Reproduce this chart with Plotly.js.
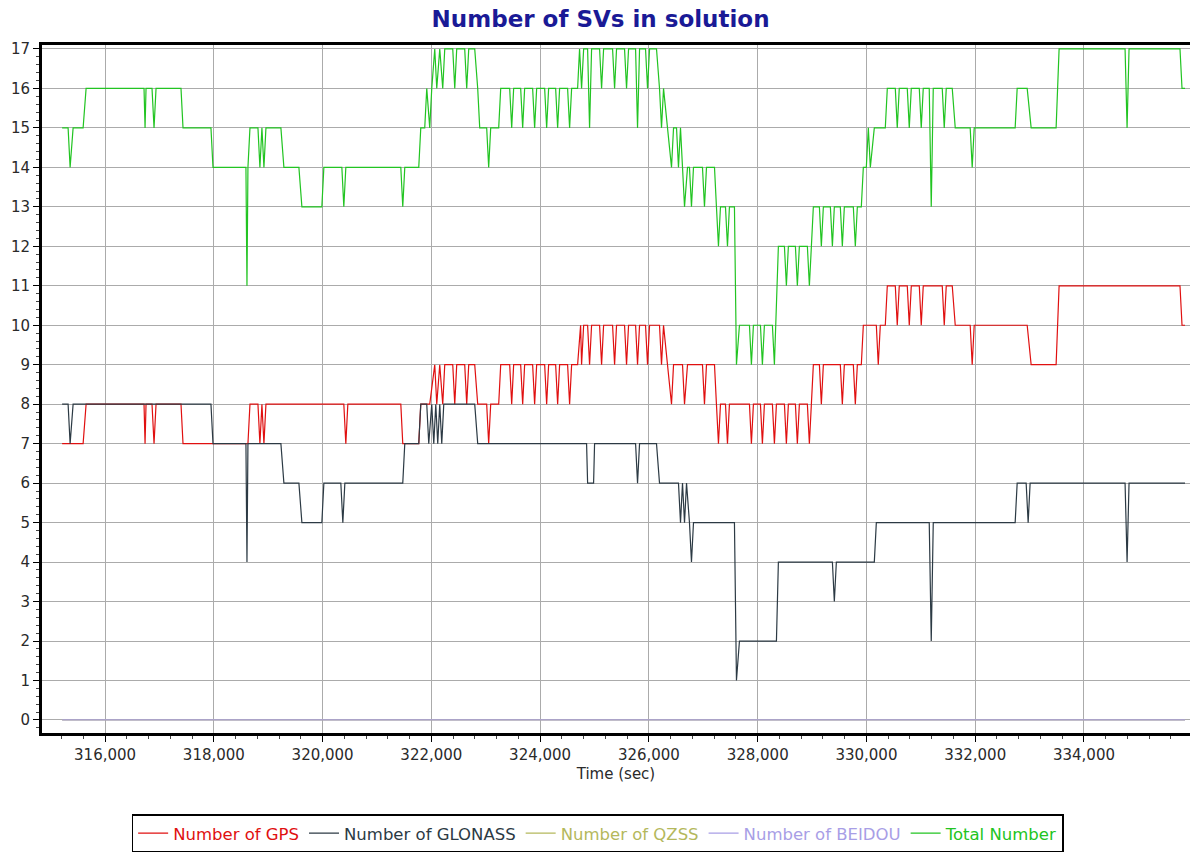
<!DOCTYPE html>
<html><head><meta charset="utf-8">
<script src="https://cdn.plot.ly/plotly-3.0.1.min.js"></script>
<style>html,body{margin:0;padding:0;background:#fff}#chart{width:1194px;height:854px}</style>
</head><body><div id="chart"></div>
<script>
// ---- Data (time in seconds of week, number of satellites) ----
const totalTime = [
315210,315320,315357,315412,315596,315651,316716,316735,316753,316863,
316900,316937,317396,317433,317947,317984,318590,318609,318627,318664,
318811,318847,318884,318921,318958,319233,319288,319564,319619,319986,
320023,320354,320390,320427,321438,321474,321511,321768,321805,321878,
321915,321970,322007,322062,322099,322154,322209,322246,322393,322430,
322466,322613,322650,322687,322797,322852,322889,323017,323054,323091,
323238,323275,323440,323477,323513,323642,323679,323715,323862,323899,
323936,324083,324120,324156,324285,324322,324358,324505,324542,324579,
324689,324725,324762,324800,324873,324909,324946,325093,325130,325167,
325332,325369,325405,325552,325589,325626,325755,325791,325828,325938,
325975,326012,326140,326195,326232,326269,326342,326416,326453,326508,
326544,326581,326618,326655,326710,326746,326783,326820,326985,327022,
327059,327206,327242,327279,327316,327408,327445,327481,327573,327610,
327665,327849,327885,327922,328051,328087,328124,328271,328308,328381,
328492,328528,328565,328694,328730,328767,328914,328951,328988,329024,
329135,329171,329208,329337,329374,329410,329520,329557,329594,329759,
329796,329833,329906,329943,329998,330035,330072,330145,330347,330384,
330531,330567,330604,330751,330788,330825,330972,331008,331045,331155,
331192,331229,331394,331431,331468,331578,331633,331908,331945,331982,
332735,332772,332956,333029,333488,333543,334756,334793,334829,335766,
335803,335858];
const totalCount = [
15,15,14,15,15,16,16,15,16,16,
15,16,16,15,15,14,14,11,14,15,
15,14,15,14,15,15,14,14,13,13,
14,14,13,14,14,13,14,14,15,15,
16,15,16,17,16,17,16,17,17,16,
17,17,16,17,17,16,15,15,14,15,
15,16,16,15,16,16,15,16,16,15,
16,16,15,16,16,15,16,16,15,16,
16,17,16,17,17,15,17,17,16,17,
17,16,17,17,16,17,17,15,17,17,
16,17,17,16,15,16,15,14,15,15,
14,15,14,13,14,14,13,14,14,13,
14,14,13,12,13,13,12,13,13,9,
10,10,9,10,10,9,10,10,9,12,
12,11,12,12,11,12,12,11,12,13,
13,12,13,13,12,13,13,12,13,13,
12,13,13,14,14,15,14,15,15,16,
16,15,16,16,15,16,16,15,16,16,
13,16,16,15,16,16,15,15,14,15,
15,16,16,15,15,17,17,15,17,17,
16,16];

const gpsTime = [
315210,315596,315651,316716,316735,316753,316863,316900,316937,317396,
317433,318627,318664,318811,318847,318884,318921,318958,320390,320427,
320464,321438,321474,321768,321805,321970,322062,322099,322154,322209,
322246,322393,322430,322466,322613,322650,322687,322797,322852,323017,
323054,323091,323238,323275,323440,323477,323513,323642,323679,323715,
323862,323899,323936,324083,324120,324156,324285,324322,324358,324505,
324542,324579,324689,324744,324762,324800,324873,324909,324946,325093,
325130,325167,325332,325369,325405,325552,325589,325626,325755,325791,
325828,325938,325975,326012,326140,326195,326232,326269,326342,326416,
326453,326618,326655,326710,326985,327022,327059,327206,327242,327279,
327316,327408,327445,327481,327849,327885,327922,328051,328087,328124,
328271,328308,328345,328492,328528,328565,328694,328730,328767,328914,
328951,328988,329024,329135,329171,329208,329520,329557,329594,329759,
329796,329833,329906,329943,330182,330218,330255,330347,330384,330531,
330567,330604,330751,330788,330825,330972,331008,331045,331394,331431,
331468,331578,331633,331908,331945,331982,332956,333029,333488,333543,
335766,335803,335858];
const gpsCount = [
7,7,8,8,7,8,8,7,8,8,
7,7,8,8,7,8,7,8,8,7,
8,8,7,7,8,8,9,8,9,8,
9,9,8,9,9,8,9,9,8,8,
7,8,8,9,9,8,9,9,8,9,
9,8,9,9,8,9,9,8,9,9,
8,9,9,10,9,10,10,9,10,10,
9,10,10,9,10,10,9,10,10,9,
10,10,9,10,10,10,9,10,9,8,
9,9,8,9,9,8,9,9,8,7,
8,8,7,8,8,7,8,8,7,8,
8,7,8,8,7,8,8,7,8,8,
7,8,9,9,8,9,9,8,9,9,
8,9,9,10,10,9,10,10,11,11,
10,11,11,10,11,11,10,11,11,10,
11,11,10,10,9,10,10,9,9,11,
11,10,10];

const glonassTime = [
315210,315320,315357,315412,317947,317984,318590,318609,318627,319233,
319288,319564,319619,319986,320023,320335,320372,320409,321474,321511,
321768,321805,321915,321952,322007,322044,322081,322117,322154,322191,
322228,322797,322852,324854,324873,324983,325001,325755,325791,325828,
326140,326195,326544,326581,326618,326655,326692,326746,326783,326820,
327573,327610,327665,328345,328381,329374,329410,329447,330145,330182,
331155,331192,331229,332735,332772,332937,332974,333010,334756,334793,
334829,335858];
const glonassCount = [
8,8,7,8,8,7,7,4,7,7,
6,6,5,5,6,6,5,6,6,7,
7,8,8,7,8,7,8,7,8,7,
8,8,7,7,6,6,7,7,6,7,
7,6,6,5,6,5,6,5,4,5,
5,1,2,2,4,4,3,4,4,5,
5,2,5,5,6,6,5,6,6,4,
6,6];

const qzssTime = [315210, 335858];
const qzssCount = [0, 0];
const beidouTime = [315210, 335858];
const beidouCount = [0, 0];

const seriesNames = ['Number of GPS','Number of GLONASS','Number of QZSS','Number of BEIDOU','Total Number'];
const seriesColors = ['#e01010','#2c3a44','#b4b85c','#a89ee6','#22c422'];

const xs = [gpsTime, glonassTime, qzssTime, beidouTime, totalTime];
const ys = [gpsCount, glonassCount, qzssCount, beidouCount, totalCount];

const traces = xs.map((x,i)=>({
  type:'scatter', mode:'lines', x:x, y:ys[i],
  name:'<span style="color:'+seriesColors[i]+'">'+seriesNames[i]+'</span>',
  line:{color:seriesColors[i], width:1.2},
  hoverinfo:'x+y'
}));

const layout = {
  width:1194, height:854,
  margin:{l:42, r:4, t:45, b:121, autoexpand:false},
  paper_bgcolor:'#ffffff', plot_bgcolor:'#ffffff',
  font:{family:'DejaVu Sans, Verdana, sans-serif', size:15, color:'#2a2a2a'},
  title:{text:'<b>Number of SVs in solution</b>', font:{family:'DejaVu Sans, Verdana, sans-serif', size:23, color:'#1a1a96'},
         x:0.503, xref:'container', xanchor:'center', y:0.978, yref:'container', yanchor:'middle'},
  xaxis:{range:[314840,335950], dtick:2000, tick0:0, tickformat:',d',
         ticks:'outside', ticklen:6, tickcolor:'#000', tickwidth:1,
         showline:true, linecolor:'#000', linewidth:3, mirror:true,
         showgrid:true, gridcolor:'#ababab', gridwidth:1, zeroline:false,
         minor:{dtick:400, tick0:0, ticks:'outside', ticklen:3, tickcolor:'#444', showgrid:false},
         tickfont:{size:15, color:'#2a2a2a'},
         title:{text:'Time (sec)', font:{size:15, color:'#2a2a2a'}, standoff:6}},
  yaxis:{range:[-0.33,17.1], dtick:1, tick0:0,
         ticks:'outside', ticklen:6, tickcolor:'#000', tickwidth:1,
         showline:true, linecolor:'#000', linewidth:3,
         showgrid:true, gridcolor:'#ababab', gridwidth:1, zeroline:false,
         minor:{dtick:0.2, tick0:0, ticks:'outside', ticklen:3, tickcolor:'#444', showgrid:false},
         tickfont:{size:15, color:'#2a2a2a'}},
  showlegend:true,
  legend:{orientation:'h', x:0.484, xanchor:'center', xref:'paper',
          y:0.0018, yanchor:'bottom', yref:'container',
          bordercolor:'#000', borderwidth:1.5, bgcolor:'#fff', font:{size:16.5}, itemwidth:30}
};

Plotly.newPlot('chart', traces, layout, {displayModeBar:false, staticPlot:true});
</script></body></html>
